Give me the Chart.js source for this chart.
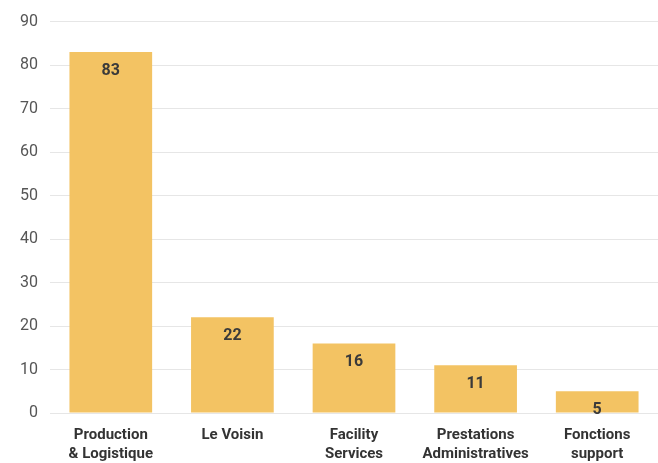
<!DOCTYPE html>
<html>
<head>
<meta charset="utf-8">
<script src="https://cdn.jsdelivr.net/npm/chart.js@4"></script>
<style>
html,body{margin:0;padding:0;background:#fff;}
#wrap{width:658px;height:463px;}
</style>
</head>
<body>
<div id="wrap"><canvas id="c" width="658" height="463"></canvas></div>
<script>
const categories = [["Production", "& Logistique"], ["Le Voisin"], ["Facility", "Services"], ["Prestations", "Administratives"], ["Fonctions", "support"]];
const values = [83, 22, 16, 11, 5];
const yTicks = [0, 10, 20, 30, 40, 50, 60, 70, 80, 90];

const labelPlugin = {
  id: 'valueLabels',
  afterDatasetsDraw(chart) {
    const ctx = chart.ctx;
    const meta = chart.getDatasetMeta(0);
    ctx.save();
    ctx.font = 'bold 16px Roboto';
    ctx.fillStyle = '#3a3a3a';
    ctx.textAlign = 'center';
    ctx.textBaseline = 'middle';
    meta.data.forEach((bar, i) => {
      ctx.fillText(String(values[i]), bar.x, bar.y + 19);
    });
    ctx.restore();
  }
};

new Chart(document.getElementById('c'), {
  type: 'bar',
  data: {
    labels: categories,
    datasets: [{
      data: values,
      backgroundColor: '#F3C363',
      borderWidth: 0,
      barPercentage: 0.68,
      categoryPercentage: 1.0
    }]
  },
  options: {
    responsive: false,
    animation: false,
    devicePixelRatio: 1,
    layout: { padding: { top: 10, right: 0, left: 0, bottom: 0 } },
    plugins: { legend: { display: false }, tooltip: { enabled: false } },
    scales: {
      x: {
        grid: { display: false },
        border: { display: false },
        afterFit(axis) { axis.height = 50; },
        ticks: {
          color: '#333',
          font: { family: 'Roboto', size: 15, weight: 'bold', lineHeight: 1.25 },
          padding: 5,
          maxRotation: 0,
          autoSkip: false
        }
      },
      y: {
        min: 0,
        max: 90,
        afterBuildTicks(axis) { axis.ticks = yTicks.map(v => ({ value: v })); },
        afterFit(axis) { axis.width = 50; },
        grid: { color: '#e6e6e6', lineWidth: 1, drawTicks: false },
        border: { display: false },
        ticks: {
          color: '#555',
          font: { family: 'Roboto', size: 16 },
          padding: 12
        }
      }
    }
  },
  plugins: [labelPlugin]
});
</script>
</body>
</html>
